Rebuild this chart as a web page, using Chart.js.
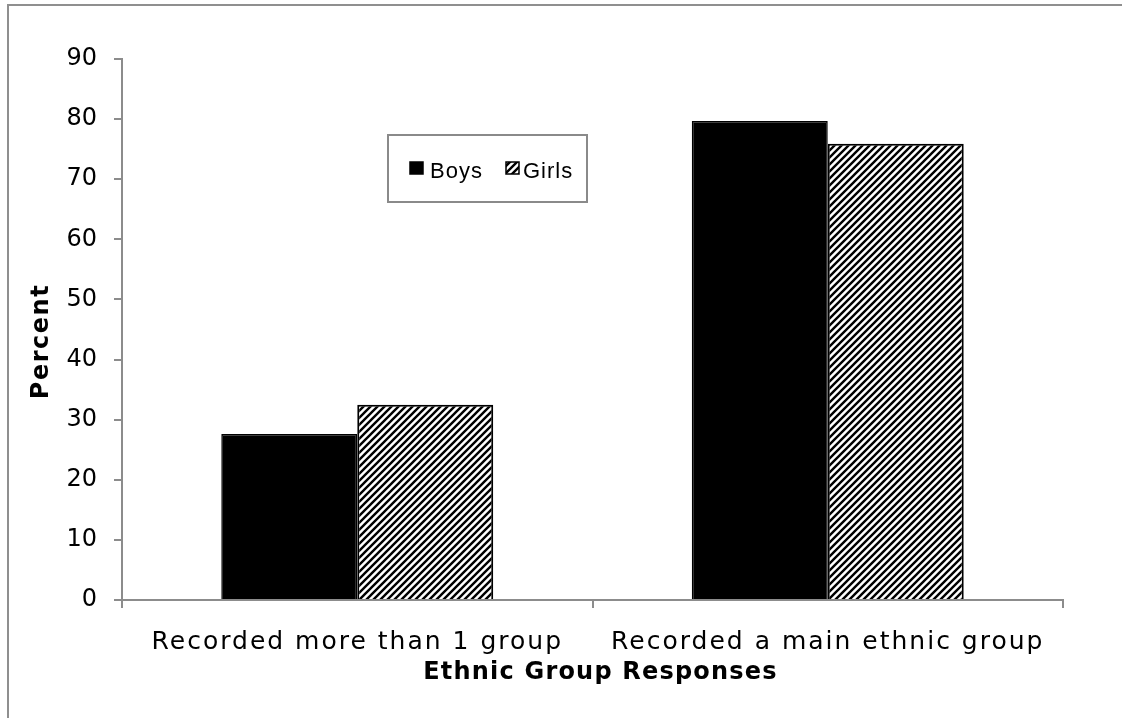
<!DOCTYPE html>
<html>
<head>
<meta charset="utf-8">
<script src="https://cdn.jsdelivr.net/npm/chart.js@4/dist/chart.umd.min.js"></script>
<style>
  html, body { margin: 0; padding: 0; background: #ffffff; }
  #wrap { width: 1122px; height: 718px; position: relative; }
</style>
</head>
<body>
<div id="wrap"><canvas id="chart" width="1122" height="718"></canvas></div>
<script>
// Ethnic group responses by sex (percent)
const categories = ['Recorded more than 1 group', 'Recorded a main ethnic group'];
const seriesNames = ['Boys', 'Girls'];
const boysValues = [27.6, 79.7];
const girlsValues = [32.5, 75.9];
const yMin = 0;
const yMax = 90;
const yStep = 10;
const xTitle = 'Ethnic Group Responses';
const yTitle = 'Percent';

const AXIS_GREY = '#8c8c8c';
const FONT = '"DejaVu Sans", Verdana, sans-serif';

// Diagonal "/" hatch used for the Girls bars
function makeHatch() {
  const size = 7;
  const p = document.createElement('canvas');
  p.width = size; p.height = size;
  const g = p.getContext('2d');
  g.fillStyle = '#ffffff';
  g.fillRect(0, 0, size, size);
  g.strokeStyle = '#000000';
  g.lineWidth = 2.4;
  g.lineCap = 'square';
  g.beginPath();
  g.moveTo(0, size); g.lineTo(size, 0);
  g.moveTo(-size, size); g.lineTo(size, -size);
  g.moveTo(0, 2 * size); g.lineTo(2 * size, 0);
  g.stroke();
  return g.createPattern(p, 'repeat');
}
const hatch = makeHatch();

// Run a scale drawing step with a given letter spacing and nudge
function spaced(scale, method, spacing, dx, dy) {
  const orig = scale[method];
  scale[method] = function (...args) {
    const c = this.ctx;
    c.save();
    c.letterSpacing = spacing;
    c.translate(dx || 0, dy || 0);
    const r = orig.apply(this, args);
    c.restore();
    return r;
  };
}

const spacingPlugin = {
  id: 'spacing',
  afterLayout(chart) {
    const { x, y } = chart.scales;
    if (x && !x._spaced) {
      spaced(x, 'drawLabels', '2px', 0, 0);
      spaced(x, 'drawTitle', '1.2px', 8, 0);
      x._spaced = true;
    }
    if (y && !y._spaced) {
      spaced(y, 'drawTitle', '1.5px', 0, 12);
      y._spaced = true;
    }
  }
};

// Outer frame lines
const framePlugin = {
  id: 'frame',
  beforeDraw(chart) {
    const ctx = chart.ctx;
    ctx.save();
    ctx.strokeStyle = '#8f8f8f';
    ctx.lineWidth = 2;
    ctx.beginPath();
    ctx.moveTo(8, 718);
    ctx.lineTo(8, 5);
    ctx.lineTo(1122, 5);
    ctx.stroke();
    ctx.restore();
  }
};

// Boxed legend sitting inside the plot area
const legendBoxPlugin = {
  id: 'legendBox',
  afterDraw(chart) {
    const ctx = chart.ctx;
    ctx.save();
    ctx.letterSpacing = '1px';
    ctx.strokeStyle = '#8a8a8a';
    ctx.lineWidth = 2;
    ctx.strokeRect(388, 135, 199, 67);
    const items = [
      { x: 410, fill: '#000000', textX: 430 },
      { x: 506, fill: hatch, textX: 523 }
    ];
    ctx.font = '22px "Liberation Sans", Arial, sans-serif';
    ctx.textBaseline = 'alphabetic';
    ctx.textAlign = 'left';
    chart.data.datasets.forEach((ds, i) => {
      const it = items[i];
      ctx.fillStyle = it.fill;
      ctx.fillRect(it.x, 162, 13, 12);
      ctx.strokeStyle = '#000000';
      ctx.lineWidth = 1.5;
      ctx.strokeRect(it.x, 162, 13, 12);
      ctx.fillStyle = '#000000';
      ctx.fillText(ds.label, it.textX, 178);
    });
    ctx.restore();
  }
};

new Chart(document.getElementById('chart'), {
  type: 'bar',
  data: {
    labels: categories,
    datasets: [
      {
        label: seriesNames[0],
        data: boysValues,
        backgroundColor: '#000000',
        borderColor: '#000000',
        borderWidth: 1.5
      },
      {
        label: seriesNames[1],
        data: girlsValues,
        backgroundColor: hatch,
        borderColor: '#000000',
        borderWidth: 2
      }
    ]
  },
  options: {
    responsive: false,
    animation: false,
    devicePixelRatio: 1,
    layout: { padding: { left: 0, top: 59, right: 59, bottom: 0 } },
    plugins: {
      legend: { display: false },
      tooltip: { enabled: false }
    },
    datasets: {
      bar: { categoryPercentage: 0.578, barPercentage: 1.0 }
    },
    scales: {
      x: {
        afterFit(scale) { scale.height = 118; },
        grid: {
          display: true,
          drawOnChartArea: false,
          drawTicks: true,
          tickLength: 8,
          color: AXIS_GREY,
          lineWidth: 2,
          offset: true
        },
        border: { display: true, color: AXIS_GREY, width: 2 },
        ticks: {
          color: '#000000',
          padding: 19,
          maxRotation: 0,
          autoSkip: false,
          font: { family: FONT, size: 25 }
        },
        title: {
          display: true,
          text: xTitle,
          color: '#000000',
          padding: 30.6,
          font: { family: FONT, size: 24, weight: 'bold' }
        }
      },
      y: {
        min: yMin,
        max: yMax,
        afterFit(scale) { scale.width = 122; },
        grid: {
          display: true,
          drawOnChartArea: false,
          drawTicks: true,
          tickLength: 8,
          color: AXIS_GREY,
          lineWidth: 2
        },
        border: { display: true, color: AXIS_GREY, width: 2 },
        ticks: {
          stepSize: yStep,
          color: '#000000',
          padding: 17,
          font: { family: FONT, size: 24 }
        },
        title: {
          display: true,
          text: yTitle,
          color: '#000000',
          padding: 27.6,
          font: { family: FONT, size: 24, weight: 'bold' }
        }
      }
    }
  },
  plugins: [spacingPlugin, framePlugin, legendBoxPlugin]
});
</script>
</body>
</html>
